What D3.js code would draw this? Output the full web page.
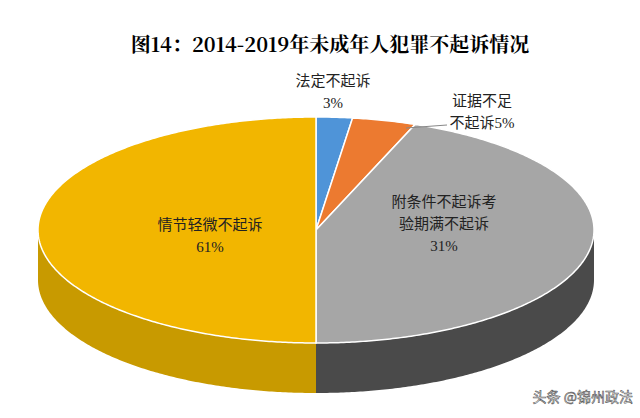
<!DOCTYPE html><html><head><meta charset="utf-8">
<script src="https://cdn.jsdelivr.net/npm/d3@7"></script>
<style>body{margin:0;background:#fff}</style></head><body>
<svg id="c" width="640" height="418"></svg>
<script>
const categories=["法定不起诉","证据不足不起诉","附条件不起诉考验期满不起诉","情节轻微不起诉"];
const values=[3,5,31,61];
const colors=["#4f94d8","#ec7a30","#a6a6a6","#f2b600"];
const sideColors=["#3a70a8","#b55a20","#4a4a4a","#c89a00"];
const svg=d3.select("#c");
const cx=316,cy=230,rx=278,ry=113,depth=50;
const pie=d3.pie().sort(null).value(d=>d)(values);
const T=2*Math.PI;
const warp=d3.scaleLinear().domain([0,0.03*T,0.08*T,0.39*T,T]).range([0,0.021*T,0.058*T,0.5*T,T]);
const P=(t,dy=0)=>[cx+rx*Math.sin(t),cy-ry*Math.cos(t)+dy];
const line=d3.line();
function arcPts(a0,a1,dy){const n=Math.max(2,Math.ceil((a1-a0)/0.01));return d3.range(n+1).map(i=>P(a0+(a1-a0)*i/n,dy));}
pie.forEach((d,i)=>{
  const a0=Math.max(warp(d.startAngle),Math.PI/2),a1=Math.min(warp(d.endAngle),3*Math.PI/2);
  if(a1>a0){const top=arcPts(a0,a1,0),bot=arcPts(a0,a1,depth).reverse();
    svg.append("path").attr("d",line(top.concat(bot))+"Z").attr("fill",sideColors[i]);}
});
pie.forEach((d,i)=>{
  svg.append("path").attr("d",line([[cx,cy]].concat(arcPts(warp(d.startAngle),warp(d.endAngle),0)))+"Z")
    .attr("fill",colors[i]).attr("stroke","#fff").attr("stroke-width",1.5);
});
svg.append("text").attr("x",330).attr("y",52).attr("text-anchor","middle")
  .attr("font-family","Noto Serif CJK SC, Liberation Serif, serif").attr("font-weight","bold").attr("font-size",20).text("图14：2014-2019年未成年人犯罪不起诉情况");
const labels=[[["法定不起诉","3%"],333,86],[["证据不足","不起诉5%"],482,106],[["附条件不起诉考","验期满不起诉","31%"],444,207],[["情节轻微不起诉","61%"],210,230]];
labels.forEach(([ls,x,y])=>ls.forEach((s,j)=>svg.append("text").attr("x",x).attr("y",y+j*22).attr("text-anchor","middle")
  .attr("font-family","Liberation Serif, Noto Sans CJK SC, serif").attr("font-size",15).attr("fill","#222").text(s)));
svg.append("line").attr("x1",406).attr("y1",128).attr("x2",447).attr("y2",125).attr("stroke","#888");
svg.append("text").attr("x",633).attr("y",402).attr("text-anchor","end").attr("font-family","Noto Sans CJK SC, sans-serif")
  .attr("font-size",14).attr("fill","#fff").attr("stroke","#555").attr("stroke-width",0.6).text("头条 @锦州政法");
</script></body></html>
